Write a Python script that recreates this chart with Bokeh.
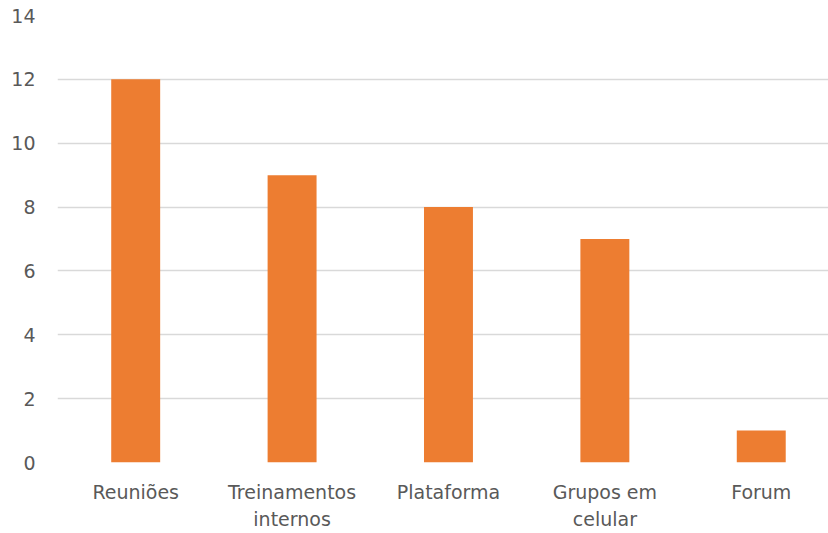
from bokeh.plotting import figure
from bokeh.models import Range1d, FixedTicker, ColumnDataSource
from bokeh.embed import file_html
from bokeh.resources import INLINE

# Data
categories = ["Reuniões", "Treinamentos\ninternos", "Plataforma", "Grupos em\ncelular", "Forum"]
counts = [12, 9, 8, 7, 1]
y_ticks = [0, 2, 4, 6, 8, 10, 12, 14]

positions = list(range(len(categories)))
source = ColumnDataSource(data=dict(x=positions, top=counts))

p = figure(
    width=828, height=533,
    x_range=Range1d(-0.5, 4.43), y_range=Range1d(0, 14),
    output_backend="svg", toolbar_location=None,
    min_border_left=57, min_border_right=0, min_border_top=15, min_border_bottom=0,
)
p.outline_line_color = None
p.background_fill_color = "white"
p.border_fill_color = "white"

p.vbar(x="x", top="top", width=0.313, bottom=0, source=source,
       fill_color="#ED7D31", line_color=None)

# Horizontal grid only
p.xgrid.grid_line_color = None
p.ygrid.grid_line_color = "#D9D9D9"
p.ygrid.grid_line_width = 1.5

p.yaxis.ticker = FixedTicker(ticks=y_ticks)
p.xaxis.ticker = FixedTicker(ticks=positions)
p.xaxis.major_label_overrides = {i: c for i, c in zip(positions, categories)}

for ax in (p.xaxis[0], p.yaxis[0]):
    ax.axis_line_color = None
    ax.major_tick_line_color = None
    ax.minor_tick_line_color = None
    ax.major_tick_out = 0
    ax.major_tick_in = 0
    ax.minor_tick_out = 0
    ax.major_label_text_color = "#595959"
    ax.major_label_text_font = "DejaVu Sans"
    ax.major_label_text_font_size = "19px"

p.xaxis.major_label_text_line_height = 1.25
p.yaxis.major_label_standoff = 22
p.xaxis.major_label_standoff = 18

open("out.html", "w").write(file_html(p, INLINE))
